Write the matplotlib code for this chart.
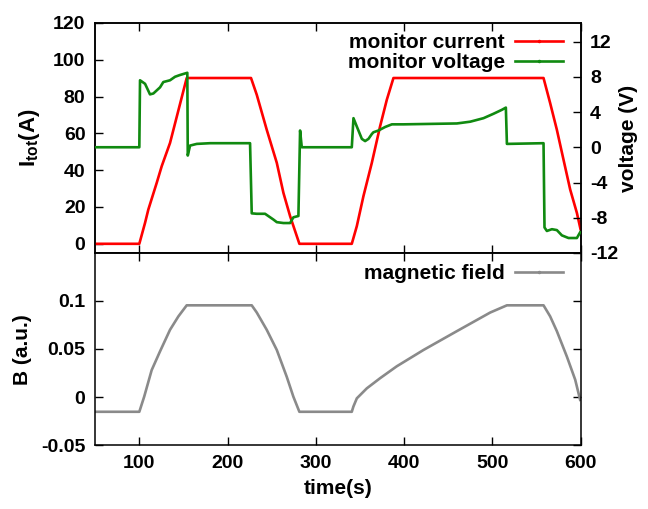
import matplotlib
matplotlib.use("Agg")
import matplotlib.pyplot as plt
from matplotlib.lines import Line2D

plt.rcParams['font.family'] = ['Liberation Sans', 'DejaVu Sans']
plt.rcParams['font.weight'] = 'bold'
plt.rcParams['axes.unicode_minus'] = False
plt.rcParams['mathtext.fontset'] = 'custom'
plt.rcParams['mathtext.rm'] = 'Liberation Sans:bold'
plt.rcParams['mathtext.bf'] = 'Liberation Sans:bold'

# ---- data ----
t_cur = [50, 100, 106.5, 110.2, 119.7, 125.4, 134.8, 153.7, 226.6, 233.1, 244.4,
         255.8, 263.3, 270.9, 281.4, 340.8, 346.5, 354.0, 363.5, 372.9, 380.5,
         388.0, 558.1, 565.6, 573.2, 580.7, 588.3, 595.9, 600]
cur = [0, 0, 11.4, 18.6, 33.1, 42.2, 54.8, 90.1, 90.1, 81.0, 62.0,
       44.0, 27.7, 15.0, 0, 0, 9.6, 25.9, 44.0, 63.9, 78.3,
       90.1, 90.1, 76.5, 62.0, 45.8, 29.5, 16.8, 8.0]

t_volt = [50, 100, 100.8, 106.5, 112.1, 115.9, 123.5, 127.2, 134.8, 140.5,
          146.1, 154.4, 154.9, 157.5, 165.1, 180.2, 225.5, 227.4, 233.1, 242.5,
          251.9, 255.8, 263.3, 270.9, 274.6, 280.3, 282.2, 284.1, 287.9, 340.8,
          342.7, 346.5, 352.2, 355.9, 359.7, 363.5, 365.3, 371.0, 378.6, 386.2,
          399.3, 429.6, 459.9, 475.0, 490.1, 501.4, 510.9, 515.4, 516.6, 558.1,
          559.2, 561.9, 567.6, 573.2, 578.9, 586.4, 595.9, 599.6]
volt = [0, 0, 7.6, 7.2, 6.0, 6.1, 6.8, 7.4, 7.6, 8.0,
        8.2, 8.45, -0.94, 0.19, 0.38, 0.46, 0.46, -7.5, -7.55, -7.55,
        -8.2, -8.5, -8.6, -8.6, -7.95, -7.8, 1.9, 0.0, 0.0, 0.0,
        3.3, 2.35, 0.95, 0.7, 0.95, 1.5, 1.7, 1.9, 2.3, 2.6,
        2.6, 2.65, 2.7, 2.9, 3.3, 3.8, 4.25, 4.5, 0.38, 0.46,
        -9.1, -9.5, -9.3, -9.4, -10.0, -10.3, -10.3, -9.65]

t_field = [50, 100, 105.5, 114.0, 123.5, 134.8, 144.3, 153.7, 227.4, 233.1,
           244.4, 255.8, 267.1, 274.6, 281.4, 340.8, 342.6, 346.5, 357.8, 372.9,
           391.8, 422.1, 459.9, 497.7, 516.6, 558.1, 565.6, 573.2, 584.6, 594.0, 599.6]
field = [-0.0154, -0.0154, 0.0003, 0.028, 0.0476, 0.070, 0.084, 0.0955, 0.0955, 0.088,
         0.070, 0.049, 0.021, 0.0003, -0.0154, -0.0154, -0.010, -0.0014, 0.009, 0.0196,
         0.032, 0.049, 0.0686, 0.088, 0.0955, 0.0955, 0.084, 0.0686, 0.042, 0.018, -0.003]

x_ticks = [100, 200, 300, 400, 500, 600]
cur_ticks = [0, 20, 40, 60, 80, 100, 120]
volt_ticks = [-12, -8, -4, 0, 4, 8, 12]
field_ticks = [-0.05, 0, 0.05, 0.1]
field_ticklabels = ['-0.05', '0', '0.05', '0.1']

RED = '#ff0000'
GREEN = '#108a10'
GREY = '#8a8a8a'
FS_TICK = 14
FS_LAB = 15

W, H = 648, 509
fig = plt.figure(figsize=(W / 100, H / 100), dpi=100)
L, R = 95.2 / W, 580.5 / W
top_px, mid_px, bot_px = 23, 253, 445
ax1 = fig.add_axes([L, 1 - mid_px / H, R - L, (mid_px - top_px) / H])
ax2 = fig.add_axes([L, 1 - bot_px / H, R - L, (bot_px - mid_px) / H])
ax1r = ax1.twinx()

lw = 1.9
ax1.plot(t_cur, cur, color=RED, lw=lw, zorder=3)
ax1r.plot(t_volt, volt, color=GREEN, lw=lw, zorder=3)
ax2.plot(t_field, field, color=GREY, lw=lw)

ax1.set_xlim(50, 600)
ax2.set_xlim(50, 600)
ax1.set_ylim(-5, 120)
ax1r.set_ylim(-12, 14.1)
ax2.set_ylim(-0.05, 0.15)

tick_kw = dict(direction='in', length=6, width=1.0, labelsize=FS_TICK, pad=7)
ax1.set_xticks(x_ticks)
ax1.tick_params(axis='x', top=True, bottom=True, labelbottom=False, **tick_kw)
ax1.set_yticks(cur_ticks)
ax1.tick_params(axis='y', left=True, right=False, **tick_kw)
ax1r.set_yticks(volt_ticks)
ax1r.tick_params(axis='y', right=True, **tick_kw)

ax2.set_xticks(x_ticks)
ax2.tick_params(axis='x', top=True, bottom=True, **tick_kw)
ax2.set_yticks(field_ticks)
ax2.set_yticklabels(field_ticklabels)
ax2.tick_params(axis='y', left=True, right=True, **tick_kw)

for a in (ax1, ax1r, ax2):
    for s in a.spines.values():
        s.set_linewidth(1.1)
    for lab in a.get_xticklabels() + a.get_yticklabels():
        lab.set_fontweight('bold')

# axis labels
fig.text(30 / W, 1 - 138 / H, r'$\mathrm{I}_{\mathrm{tot}}$(A)', rotation=90,
         ha='center', va='center', fontsize=FS_LAB + 1, fontweight='bold')
fig.text(22 / W, 1 - 350 / H, 'B (a.u.)', rotation=90,
         ha='center', va='center', fontsize=FS_LAB, fontweight='bold')
fig.text(628 / W, 1 - 138 / H, 'voltage (V)', rotation=90,
         ha='center', va='center', fontsize=FS_LAB, fontweight='bold')
fig.text(338 / W, 1 - 489 / H, 'time(s)',
         ha='center', va='center', fontsize=FS_LAB, fontweight='bold')

# legends
h_cur = Line2D([], [], color=RED, lw=lw, marker='.', markersize=3)
h_volt = Line2D([], [], color=GREEN, lw=lw, marker='.', markersize=3)
ax1r.legend([h_cur, h_volt], ['monitor current', 'monitor voltage'],
            loc='upper right', bbox_to_anchor=(0.9643, 0.957),
            frameon=False, markerfirst=False,
            handlelength=2.3, handletextpad=0.5, borderpad=0,
            borderaxespad=0, labelspacing=0.05, numpoints=1,
            prop={'weight': 'bold', 'size': FS_LAB})

h_b = Line2D([], [], color=GREY, lw=lw, marker='.', markersize=3)
ax2.legend([h_b], ['magnetic field'], loc='upper right',
           bbox_to_anchor=(0.9643, 0.943), frameon=False, markerfirst=False,
           handlelength=2.3, handletextpad=0.5, borderpad=0, borderaxespad=0,
           numpoints=1, prop={'weight': 'bold', 'size': FS_LAB})

fig.savefig('out.png', dpi=100)
